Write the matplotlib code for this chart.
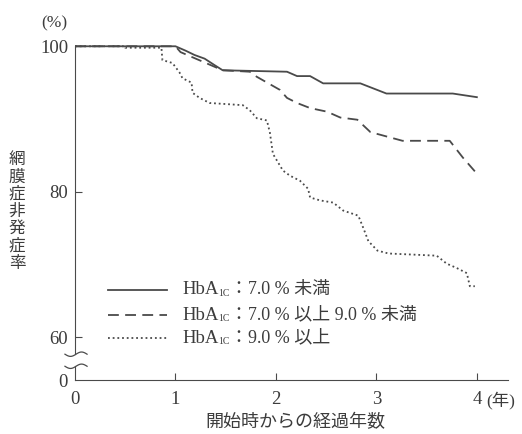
import numpy as np
import matplotlib
matplotlib.use("Agg")
import matplotlib.pyplot as plt

plt.rcParams['font.family'] = ['Liberation Serif', 'Noto Sans CJK JP']

# Kaplan-Meier style curves
low_x = [0, 1.0, 1.1, 1.19, 1.29, 1.39, 1.47, 2.11, 2.21, 2.34, 2.47, 2.84, 3.10, 3.76, 4.0]
low_y = [100, 100, 99.4, 98.8, 98.3, 97.4, 96.7, 96.5, 95.9, 95.9, 94.9, 94.9, 93.5, 93.5, 93.0]

mid_x = [0, 1.0, 1.05, 1.47, 1.74, 1.81, 2.04, 2.11, 2.21, 2.34, 2.51, 2.64, 2.81,
         2.94, 3.10, 3.26, 3.73, 3.86, 3.98]
mid_y = [100, 100, 99.2, 96.7, 96.5, 95.8, 94.0, 92.9, 92.2, 91.5, 91.0, 90.2, 89.9,
         88.2, 87.6, 87.0, 87.0, 84.7, 82.8]

high_x = [0, 0.5, 0.5, 0.86, 0.87, 0.97, 1.04, 1.07, 1.16, 1.17, 1.24, 1.34, 1.67, 1.74,
          1.81, 1.91, 1.94, 1.97, 2.07, 2.14, 2.24, 2.32, 2.34, 2.44, 2.57, 2.67, 2.82,
          2.87, 2.92, 3.01, 3.12, 3.60, 3.70, 3.80, 3.90, 3.93, 3.98]
high_y = [100, 100, 99.8, 99.8, 98.1, 97.7, 96.4, 95.6, 95.0, 93.6, 92.9, 92.2, 91.9, 91.2,
          90.1, 89.8, 88.1, 85.2, 82.9, 82.2, 81.5, 80.4, 79.2, 78.8, 78.5, 77.4, 76.7,
          75.0, 73.2, 71.9, 71.5, 71.2, 70.1, 69.5, 68.8, 67.0, 67.0]

series = [
    (low_x, low_y, '-', '7.0 % 未満'),
    (mid_x, mid_y, (0, (6, 3.5)), '7.0 % 以上 9.0 % 未満'),
    (high_x, high_y, (0, (1, 1.6)), '9.0 % 以上'),
]

x_ticks = [0, 1, 2, 3, 4]
y_ticks = [60, 80, 100]

Y_ZERO = 54.1          # where "0" sits below the axis break
BREAK_HI, BREAK_LO = 57.65, 55.99

ink = '#4a4a4a'
txt = '#3c3c3c'
fs = 13.5

fig = plt.figure(figsize=(5.22, 4.34), dpi=100)
ax = fig.add_axes([0.1437, 0.1244, 0.8295, 0.774])

for xs, ys, ls, _ in series:
    ax.plot(xs, ys, color=ink, lw=1.3, linestyle=ls)

ax.set_xlim(0, 4.31)
ax.set_ylim(Y_ZERO, 100.3)

for s in ['top', 'right']:
    ax.spines[s].set_visible(False)
ax.spines['left'].set_bounds(BREAK_HI, 100)
ax.spines['left'].set_color(ink)
ax.spines['bottom'].set_color(ink)
ax.plot([0, 0], [Y_ZERO, BREAK_LO], color=ink, lw=0.8, clip_on=False)

# squiggly break marks
u = np.linspace(-1, 1, 40)
for yc in (BREAK_HI, BREAK_LO):
    ax.plot(0.01 + u * 0.11, yc + 0.3 * np.sin(np.pi * u), color=ink, lw=0.9,
            clip_on=False)

ax.set_xticks(x_ticks)
ax.set_xticklabels([str(v) for v in x_ticks])
ax.set_yticks([Y_ZERO] + y_ticks)
ax.set_yticklabels(['0'] + [str(v) for v in y_ticks])
ax.tick_params(direction='in', length=5, width=0.8, color=ink, labelcolor=txt,
               labelsize=fs)
ax.tick_params(axis='x', pad=8)
ax.tick_params(axis='y', pad=5)
ax.xaxis.get_major_ticks()[0].tick1line.set_visible(False)
ax.yaxis.get_major_ticks()[0].tick1line.set_visible(False)

fig.text(501 / 522, 1 - 400 / 434, '(年)', ha='center', va='center', fontsize=fs - 1,
         color=txt)
fig.text(54 / 522, 1 - 23 / 434, '(%)', ha='center', va='center', fontsize=fs - 1,
         color=txt)
fig.text(17 / 522, 1 - 212 / 434, '\n'.join('網膜症非発症率'), ha='center',
         va='center', fontsize=12, color=txt, linespacing=1.1)
fig.text(295 / 522, 1 - 423 / 434, '開始時からの経過年数', ha='center', va='center',
         fontsize=13, color=txt)

# hand-made legend (subscript needs mixed sizes)
rows_y = [0.268, 0.193, 0.125]
for (xs, ys, ls, lab), ry in zip(series, rows_y):
    ax.plot([0.076, 0.212], [ry, ry], transform=ax.transAxes, color=ink, lw=1.3,
            linestyle=ls)
    t1 = ax.text(0.249, ry, 'HbA', transform=ax.transAxes, ha='left',
                 va='center', fontsize=fs, color=txt)
    t2 = ax.annotate('1C', xy=(1, 0), xycoords=t1, xytext=(-0.4, 0.3),
                     textcoords='offset points', ha='left', va='bottom',
                     fontsize=7, color=txt)
    ax.annotate('：' + lab, xy=(1, 0), xycoords=t2, xytext=(0, -0.3),
                textcoords='offset points', ha='left', va='bottom',
                fontsize=fs - 0.5, color=txt)

fig.savefig('out.png', dpi=100)
